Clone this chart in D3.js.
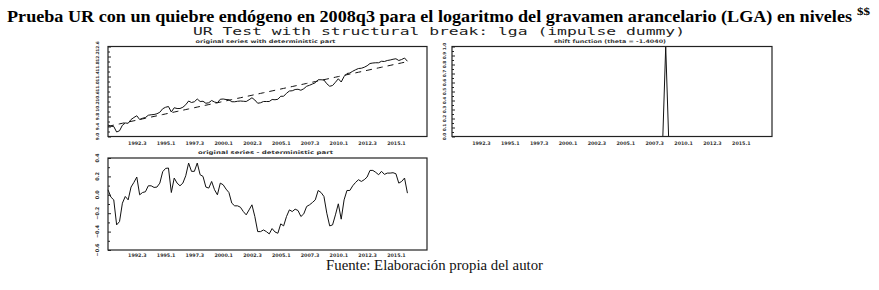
<!DOCTYPE html>
<html>
<head>
<meta charset="utf-8">
<script src="https://cdn.jsdelivr.net/npm/d3@7"></script>
<style>
  body { margin: 0; background: #fff; }
  svg { display: block; }
</style>
</head>
<body>
<script>
// ---------------- DATA ----------------
const startYear = 1990;          // 1990q1
const xTickLabels = ["1992.3","1995.1","1997.3","2000.1","2002.3","2005.1","2007.3","2010.1","2012.3","2015.1"];
const xTickValues = [1992.5,1995.0,1997.5,2000.0,2002.5,2005.0,2007.5,2010.0,2012.5,2015.0];

// original series (log of tariff revenue)
const original = [
 9.46,9.41,9.40,9.18,9.23,9.45,9.54,9.53,9.68,9.76,
 9.83,9.68,9.73,9.76,9.85,9.87,9.88,9.91,9.97,10.11,
 10.17,10.20,9.98,10.15,10.12,10.12,10.17,10.27,10.42,10.36,
 10.39,10.50,10.40,10.41,10.33,10.35,10.44,10.38,10.35,10.49,
 10.50,10.48,10.47,10.39,10.39,10.41,10.42,10.41,10.40,10.47,
 10.55,10.46,10.33,10.35,10.40,10.40,10.40,10.48,10.47,10.49,
 10.61,10.61,10.73,10.82,10.83,10.88,10.89,10.85,10.91,11.01,
 11.05,11.10,11.15,11.27,11.27,11.26,11.11,11.01,11.04,11.17,
 11.31,11.18,11.40,11.52,11.54,11.61,11.67,11.72,11.73,11.77,
 11.83,11.92,11.94,11.95,11.95,12.01,12.00,12.04,12.06,12.09,
 12.11,12.04,12.08,12.14,12.01
];
// deterministic part (trend)
const deterministic = [
 9.405,9.430,9.455,9.480,9.505,9.530,9.554,9.579,9.604,9.629,
 9.654,9.679,9.704,9.729,9.754,9.779,9.803,9.828,9.853,9.878,
 9.903,9.928,9.953,9.978,10.003,10.028,10.052,10.077,10.102,10.127,
 10.152,10.177,10.202,10.227,10.252,10.277,10.301,10.326,10.351,10.376,
 10.401,10.426,10.451,10.476,10.501,10.526,10.550,10.575,10.600,10.625,
 10.650,10.675,10.700,10.725,10.750,10.775,10.799,10.824,10.849,10.874,
 10.899,10.924,10.949,10.974,10.999,11.024,11.048,11.073,11.098,11.123,
 11.148,11.173,11.198,11.223,11.248,11.273,11.297,11.322,11.347,11.372,
 11.397,11.422,11.447,11.472,11.497,11.522,11.546,11.571,11.596,11.621,
 11.646,11.671,11.696,11.721,11.746,11.771,11.795,11.820,11.845,11.870,
 11.895,11.920,11.945,11.970,11.995
];
// original series - deterministic part
const residual = [
 0.055,-0.025,-0.055,-0.327,-0.291,-0.091,-0.018,-0.055,0.084,0.135,
 0.193,0.000,0.025,0.033,0.098,0.098,0.080,0.084,0.127,0.251,
 0.287,0.291,0.025,0.182,0.127,0.098,0.127,0.207,0.345,0.255,
 0.255,0.345,0.218,0.200,0.084,0.073,0.145,0.055,0.000,0.127,
 0.109,0.062,0.025,-0.091,-0.120,-0.120,-0.135,-0.182,-0.218,-0.164,
 -0.109,-0.236,-0.400,-0.400,-0.382,-0.400,-0.425,-0.367,-0.404,-0.418,
 -0.316,-0.338,-0.236,-0.164,-0.182,-0.156,-0.171,-0.236,-0.207,-0.127,
 -0.109,-0.084,-0.055,0.047,0.025,-0.018,-0.200,-0.338,-0.327,-0.218,
 -0.098,-0.265,-0.055,0.047,0.047,0.098,0.135,0.164,0.145,0.164,
 0.193,0.265,0.265,0.244,0.218,0.255,0.222,0.236,0.236,0.240,
 0.229,0.127,0.145,0.182,0.018
];
// shift function (impulse dummy at 2008q3)
const shiftFn = [
 0,0,0,0,0,0,0,0,0,0, 0,0,0,0,0,0,0,0,0,0,
 0,0,0,0,0,0,0,0,0,0, 0,0,0,0,0,0,0,0,0,0,
 0,0,0,0,0,0,0,0,0,0, 0,0,0,0,0,0,0,0,0,0,
 0,0,0,0,0,0,0,0,0,0, 0,0,0,0,1,0,0,0,0,0,
 0,0,0,0,0,0,0,0,0,0, 0,0,0,0,0,0,0,0,0,0,
 0,0,0,0,0
];
const y1Ticks = [9.0,9.4,9.8,10.2,10.6,11.0,11.4,11.8,12.2,12.6];
const y2Ticks = [0.0,0.1,0.2,0.3,0.4,0.5,0.6,0.7,0.8,0.9,1.0];
const y3Ticks = [-0.6,-0.4,-0.2,0.0,0.2,0.4];

const periods = original.map((_, i) => startYear + i / 4);

// ---------------- DRAW ----------------
const W = 879, H = 290;
const svg = d3.select("body").append("svg").attr("width", W).attr("height", H);

// main title
svg.append("text")
  .attr("x", 7).attr("y", 22)
  .attr("font-family", "Liberation Serif, serif")
  .attr("font-weight", "bold").attr("font-size", 17.5)
  .attr("textLength", 845).attr("lengthAdjust", "spacingAndGlyphs")
  .text("Prueba UR con un quiebre endógeno en 2008q3 para el logaritmo del gravamen arancelario (LGA) en niveles");
svg.append("text")
  .attr("x", 857).attr("y", 15)
  .attr("font-family", "Liberation Serif, serif")
  .attr("font-weight", "bold").attr("font-size", 10)
  .attr("textLength", 13).attr("lengthAdjust", "spacingAndGlyphs")
  .text("$$");

// sub title
svg.append("text")
  .attr("x", 193).attr("y", 35)
  .attr("font-family", "DejaVu Sans Mono, monospace")
  .attr("font-size", 10).attr("fill", "#222")
  .attr("textLength", 492).attr("lengthAdjust", "spacingAndGlyphs")
  .text("UR Test with structural break: lga (impulse dummy)");

// footer
svg.append("text")
  .attr("x", 326).attr("y", 270)
  .attr("font-family", "Liberation Serif, serif")
  .attr("font-size", 15).attr("fill", "#111")
  .attr("textLength", 217).attr("lengthAdjust", "spacingAndGlyphs")
  .text("Fuente: Elaboración propia del autor");

function panel(opt) {
  const g = svg.append("g");
  const x = d3.scaleLinear().domain([1990, 2017.7]).range([opt.x0, opt.x1]);
  const y = d3.scaleLinear().domain(opt.ydom).range([opt.y1, opt.y0]);

  // subtitle
  g.append("text")
    .attr("x", (opt.x0 + opt.x1) / 2 - 2).attr("y", opt.y0 - 4)
    .attr("text-anchor", "middle")
    .attr("font-family", "DejaVu Sans, sans-serif")
    .attr("font-size", 4.8).attr("font-weight", "bold").attr("fill", "#333")
    .attr("textLength", opt.subLen).attr("lengthAdjust", "spacingAndGlyphs")
    .text(opt.sub);

  // series
  opt.series.forEach(s => {
    const line = d3.line().x((d, i) => x(periods[i])).y(d => y(d));
    g.append("path").datum(s.data)
      .attr("d", line)
      .attr("fill", "none")
      .attr("stroke", "#111")
      .attr("stroke-width", 1)
      .attr("stroke-dasharray", s.dash || null);
  });

  // frame
  g.append("rect")
    .attr("x", opt.x0).attr("y", opt.y0)
    .attr("width", opt.x1 - opt.x0).attr("height", opt.y1 - opt.y0)
    .attr("fill", "none").attr("stroke", "#222").attr("stroke-width", 1.2);

  // y axis: inward ticks + rotated labels
  const yAxis = d3.axisRight(y).tickValues(opt.yticks).tickSize(3).tickFormat("");
  const ya = g.append("g").attr("transform", `translate(${opt.x0},0)`).call(yAxis);
  ya.select(".domain").remove();
  ya.selectAll("line").attr("stroke", "#222");
  const minor = [];
  for (let i = 0; i < opt.yticks.length - 1; i++) minor.push((opt.yticks[i] + opt.yticks[i + 1]) / 2);
  const yMinor = d3.axisRight(y).tickValues(minor).tickSize(2).tickFormat("");
  const ym = g.append("g").attr("transform", `translate(${opt.x0},0)`).call(yMinor);
  ym.select(".domain").remove();
  ym.selectAll("line").attr("stroke", "#222");

  g.selectAll(".ylab").data(opt.yticks).enter().append("text")
    .attr("transform", d => `translate(${opt.x0 - opt.ylabOff},${y(d)}) rotate(-90)`)
    .attr("text-anchor", "middle")
    .attr("font-family", "DejaVu Sans, sans-serif")
    .attr("font-size", opt.ylabSize).attr("font-weight", "bold").attr("fill", "#333")
    .text(d => d3.format(opt.yfmt)(d));

  // x axis labels
  const xAxis = d3.axisBottom(x).tickValues(xTickValues).tickSize(0)
    .tickFormat((d, i) => xTickLabels[i]);
  const xa = g.append("g").attr("transform", `translate(0,${opt.y1})`).call(xAxis);
  xa.select(".domain").remove();
  xa.selectAll("text")
    .attr("dy", 0).attr("y", opt.xlabOff)
    .attr("font-family", "DejaVu Sans, sans-serif")
    .attr("font-size", 4.8).attr("font-weight", "bold").attr("fill", "#333");
}

panel({
  x0: 108, x1: 427, y0: 46.5, y1: 136.5,
  ydom: [9.0, 12.6], yticks: y1Ticks, yfmt: ".1f", ylabOff: 9, ylabSize: 4.3,
  sub: "original series with deterministic part", subLen: 140,
  series: [{ data: original }, { data: deterministic, dash: "6,5" }],
  xlabOff: 8
});
panel({
  x0: 452, x1: 772, y0: 46.5, y1: 136.5,
  ydom: [0, 1], yticks: y2Ticks, yfmt: ".1f", ylabOff: 6, ylabSize: 4.3,
  sub: "shift function (theta = -1.4040)", subLen: 112,
  series: [{ data: shiftFn }],
  xlabOff: 8
});
panel({
  x0: 108, x1: 427, y0: 158, y1: 250,
  ydom: [-0.6, 0.4], yticks: y3Ticks, yfmt: ".1f", ylabOff: 9, ylabSize: 5,
  sub: "original series - deterministic part", subLen: 135,
  series: [{ data: residual }],
  xlabOff: 6.5
});
</script>
</body>
</html>
